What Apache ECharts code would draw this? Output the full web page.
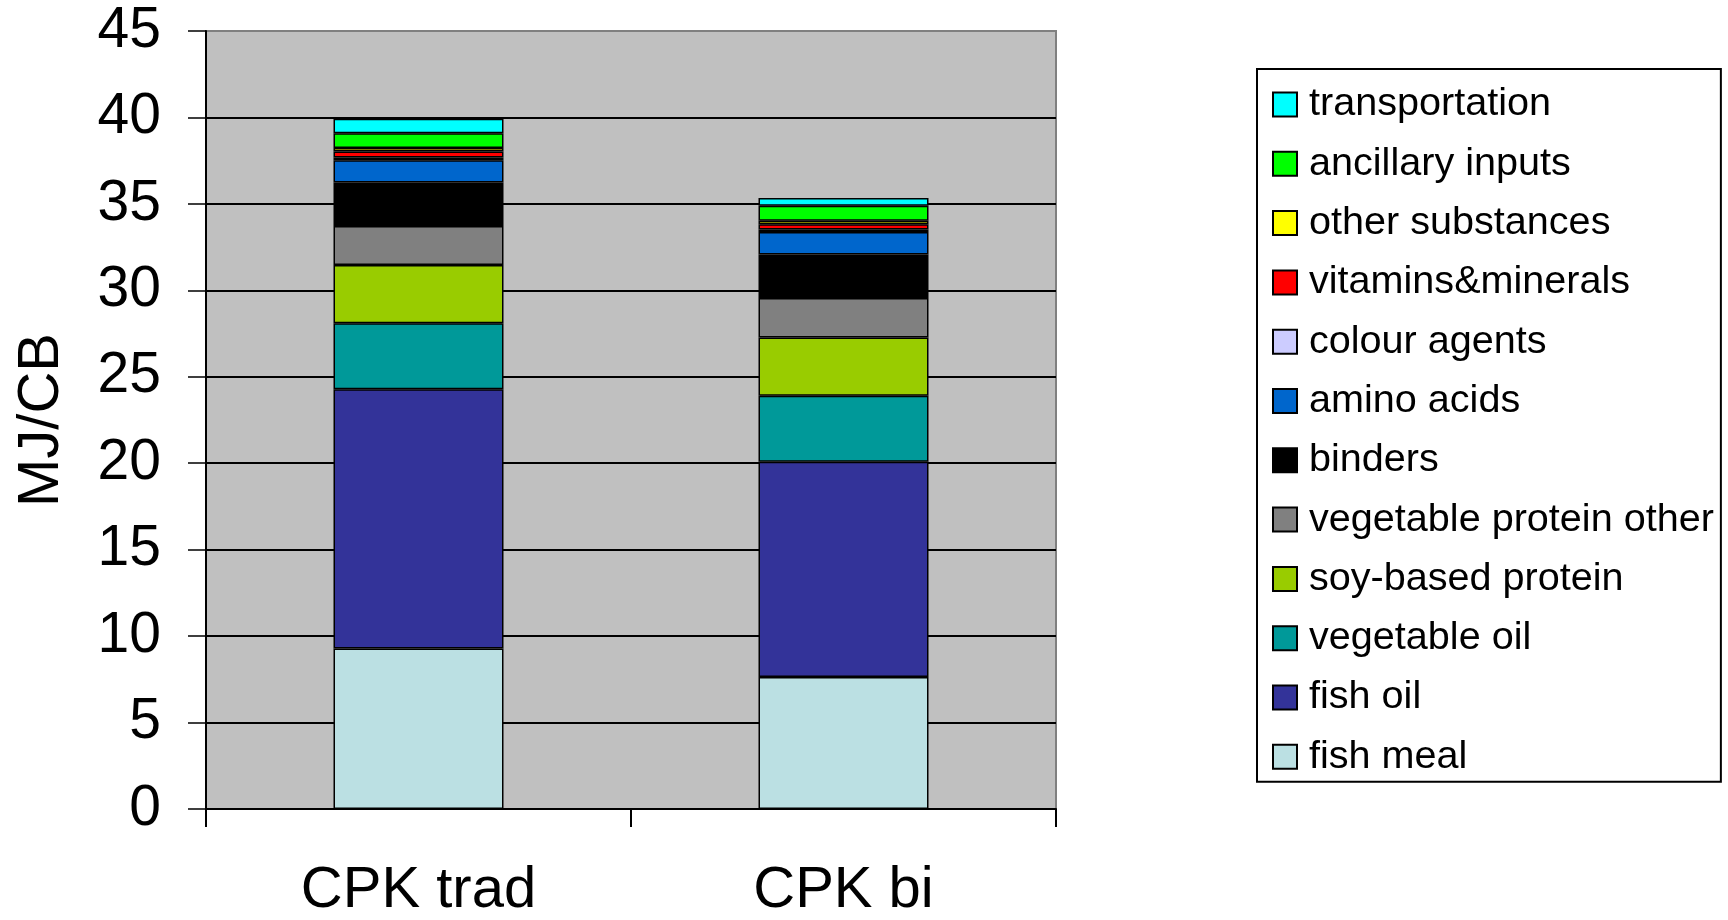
<!DOCTYPE html>
<html>
<head>
<meta charset="utf-8">
<script src="https://cdn.jsdelivr.net/npm/echarts@6/dist/echarts.min.js"></script>
<style>
html,body{margin:0;padding:0;background:#fff;}
#chart{width:1728px;height:920px;}
</style>
</head>
<body>
<div id="chart"></div>
<script>
const categories = ['CPK trad', 'CPK bi'];
const yTicks = [0, 5, 10, 15, 20, 25, 30, 35, 40, 45];

const fishMeal        = [9.28, 7.63];
const fishOil         = [15.0, 12.46];
const vegetableOil    = [3.82, 3.81];
const soyProtein      = [3.37, 3.37];
const vegProteinOther = [2.25, 2.29];
const binders         = [2.51, 2.51];
const aminoAcids      = [1.3, 1.3];
const colourAgents    = [0.15, 0.15];
const vitamins        = [0.35, 0.3];
const otherSubstances = [0.2, 0.2];
const ancillaryInputs = [0.85, 0.87];
const transportation  = [0.85, 0.45];

const seriesNames = ['fish meal', 'fish oil', 'vegetable oil', 'soy-based protein', 'vegetable protein other', 'binders', 'amino acids', 'colour agents', 'vitamins&minerals', 'other substances', 'ancillary inputs', 'transportation'];
const seriesData = [fishMeal, fishOil, vegetableOil, soyProtein, vegProteinOther, binders, aminoAcids, colourAgents, vitamins, otherSubstances, ancillaryInputs, transportation];
const seriesColors = ['#BBE0E3', '#333399', '#009999', '#99CC00', '#808080', '#000000', '#0066CC', '#CCCCFF', '#FF0000', '#FFFF00', '#00FF00', '#00FFFF'];

const FONT = "'Liberation Sans', Arial, sans-serif";

const chart = echarts.init(document.getElementById('chart'), null, {renderer: 'canvas'});
chart.setOption({
  animation: false,
  backgroundColor: '#ffffff',
  textStyle: {fontFamily: FONT, color: '#000'},
  grid: {
    left: 206, right: 672, top: 31, bottom: 109,
    show: true, backgroundColor: '#C0C0C0', borderColor: '#808080', borderWidth: 2
  },
  legend: {
    orient: 'vertical',
    left: 1257, top: 69,
    padding: [15.5, 7, 5, 15],
    borderColor: '#000', borderWidth: 2,
    backgroundColor: '#fff',
    icon: 'rect',
    itemWidth: 24, itemHeight: 24,
    itemGap: 19.3,
    textStyle: {fontFamily: FONT, fontSize: 39.6, lineHeight: 40, color: '#000', padding: [0, 0, 0, 7]},
    data: seriesNames.slice().reverse()
  },
  xAxis: {
    type: 'category',
    data: categories,
    axisLine: {lineStyle: {color: '#000', width: 2}},
    axisTick: {show: true, length: 18, lineStyle: {color: '#000', width: 2}},
    axisLabel: {fontFamily: FONT, fontSize: 58, color: '#000', margin: 53},
    splitLine: {show: false}
  },
  yAxis: {
    type: 'value',
    min: 0, max: 45, interval: 5,
    name: 'MJ/CB',
    nameLocation: 'middle',
    nameGap: 135,
    nameTextStyle: {fontFamily: FONT, fontSize: 58, color: '#000'},
    axisLine: {show: true, lineStyle: {color: '#000', width: 2}},
    axisTick: {show: true, length: 18, lineStyle: {color: '#000', width: 1.5}},
    axisLabel: {fontFamily: FONT, fontSize: 57, color: '#000', margin: 45,
      formatter: function (v) { return yTicks.indexOf(v) >= 0 ? String(v) : ''; }},
    splitLine: {show: true, showMaxLine: false, showMinLine: false, lineStyle: {color: '#000', width: 1.8}}
  },
  series: seriesNames.map(function (name, i) {
    return {
      name: name,
      type: 'bar',
      stack: 'total',
      barWidth: '40%',
      data: seriesData[i],
      itemStyle: {color: seriesColors[i], borderColor: '#000', borderWidth: 1.5}
    };
  })
});
</script>
</body>
</html>
